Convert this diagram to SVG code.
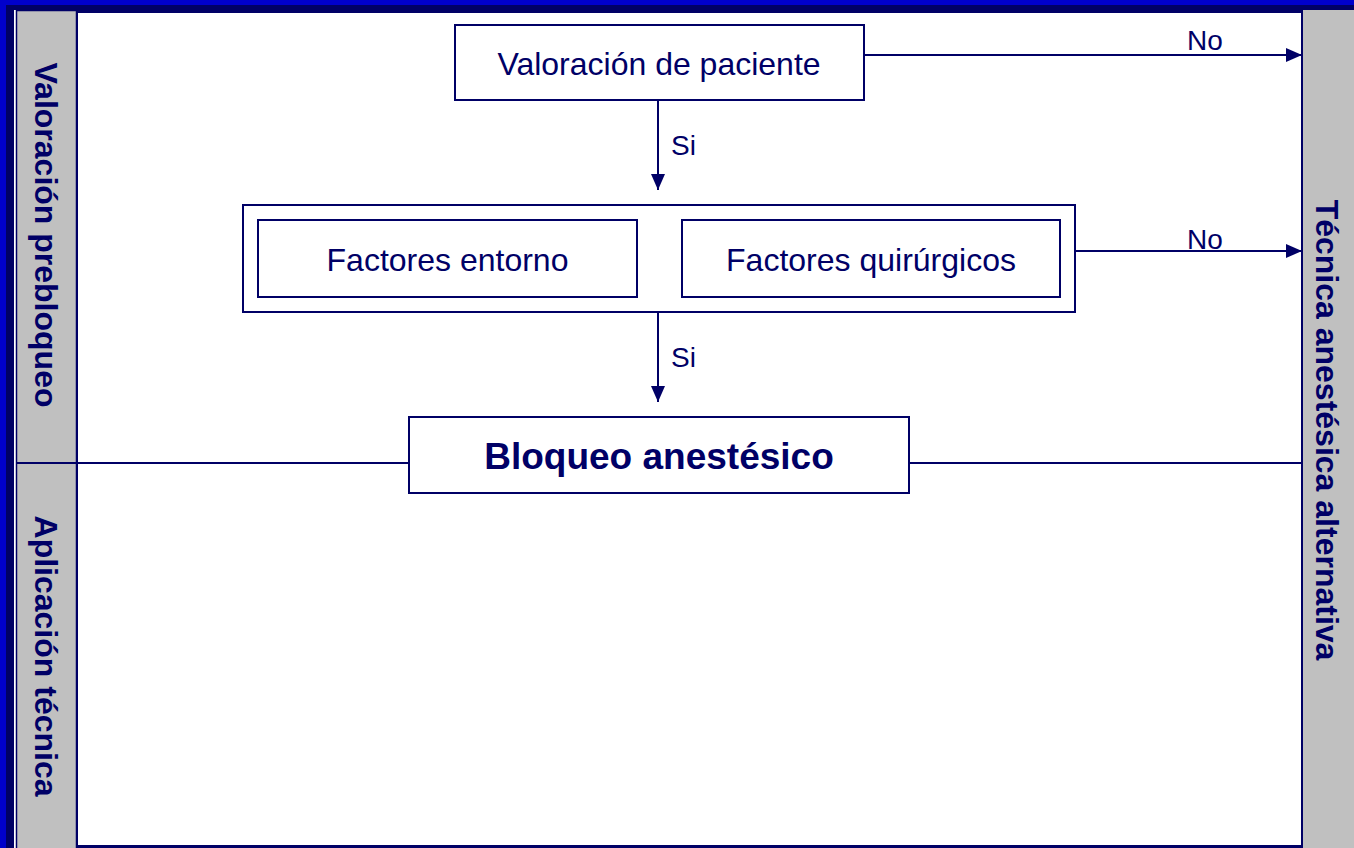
<svg xmlns="http://www.w3.org/2000/svg" width="1354" height="848" viewBox="0 0 1354 848">
<defs>
<style>
.box{fill:#fff;stroke:#000066;stroke-width:2}
.ln{fill:none;stroke:#000066;stroke-width:2}
.t{font-family:"Liberation Sans",Arial,sans-serif;fill:#000066}
.lane{font-family:"Liberation Sans",Arial,sans-serif;font-weight:bold;font-size:32px;fill:#000066;text-anchor:middle}
</style>
<marker id="ah2" markerWidth="16" markerHeight="14" refX="16" refY="7" orient="auto" markerUnits="userSpaceOnUse" viewBox="0 0 16 14">
<path d="M0,0 L16,7 L0,14 Z" fill="#000066"/>
</marker>
</defs>
<rect x="0" y="0" width="1354" height="848" fill="#0000CC"/>
<rect x="6" y="5" width="1348" height="843" fill="#000066"/>
<rect x="14" y="10" width="3" height="838" fill="#fff"/>
<g id="lanes">
<rect x="16.5" y="10.5" width="60" height="840" fill="#C0C0C0" stroke="#000066" stroke-width="1.5"/>
<rect x="77" y="12" width="1225" height="834" fill="#fff" stroke="#000066" stroke-width="2"/>
<rect x="1303" y="10" width="51" height="840" fill="#C0C0C0"/>
<line x1="1302" y1="12" x2="1302" y2="848" stroke="#000066" stroke-width="2"/>
<line x1="16" y1="463" x2="77" y2="463" stroke="#000066" stroke-width="2"/>
<text class="lane" transform="translate(35,235) rotate(90)">Valoración prebloqueo</text>
<text class="lane" transform="translate(35,656) rotate(90)">Aplicación técnica</text>
<text class="lane" transform="translate(1316,430) rotate(90)">Técnica anestésica alternativa</text>
</g>
<g id="connectors">
<line class="ln" x1="77" y1="463" x2="409" y2="463"/>
<line class="ln" x1="909" y1="463" x2="1302" y2="463"/>
<line class="ln" x1="864" y1="55" x2="1302" y2="55" marker-end="url(#ah2)"/>
<line class="ln" x1="1075" y1="251" x2="1302" y2="251" marker-end="url(#ah2)"/>
<line class="ln" x1="658" y1="100" x2="658" y2="190" marker-end="url(#ah2)"/>
<line class="ln" x1="658" y1="312" x2="658" y2="402" marker-end="url(#ah2)"/>
<text class="t" x="1205" y="50" font-size="28" text-anchor="middle">No</text>
<text class="t" x="1205" y="249" font-size="28" text-anchor="middle">No</text>
<text class="t" x="671" y="155" font-size="28">Si</text>
<text class="t" x="671" y="367" font-size="28">Si</text>
</g>
<g id="valoracion">
<rect class="box" x="455" y="25" width="409" height="75"/>
<text class="t" x="659" y="75" font-size="32" text-anchor="middle">Valoración de paciente</text>
</g>
<g id="factores">
<rect class="box" x="243" y="205" width="832" height="107"/>
</g>
<g id="entorno">
<rect class="box" x="258" y="220" width="379" height="77"/>
<text class="t" x="447.5" y="271" font-size="32" text-anchor="middle">Factores entorno</text>
</g>
<g id="quirurgicos">
<rect class="box" x="682" y="220" width="378" height="77"/>
<text class="t" x="871" y="271" font-size="32" text-anchor="middle">Factores quirúrgicos</text>
</g>
<g id="bloqueo">
<rect class="box" x="409" y="417" width="500" height="76"/>
<text class="t" x="659" y="469" font-size="37" font-weight="bold" text-anchor="middle">Bloqueo anestésico</text>
</g>
</svg>
